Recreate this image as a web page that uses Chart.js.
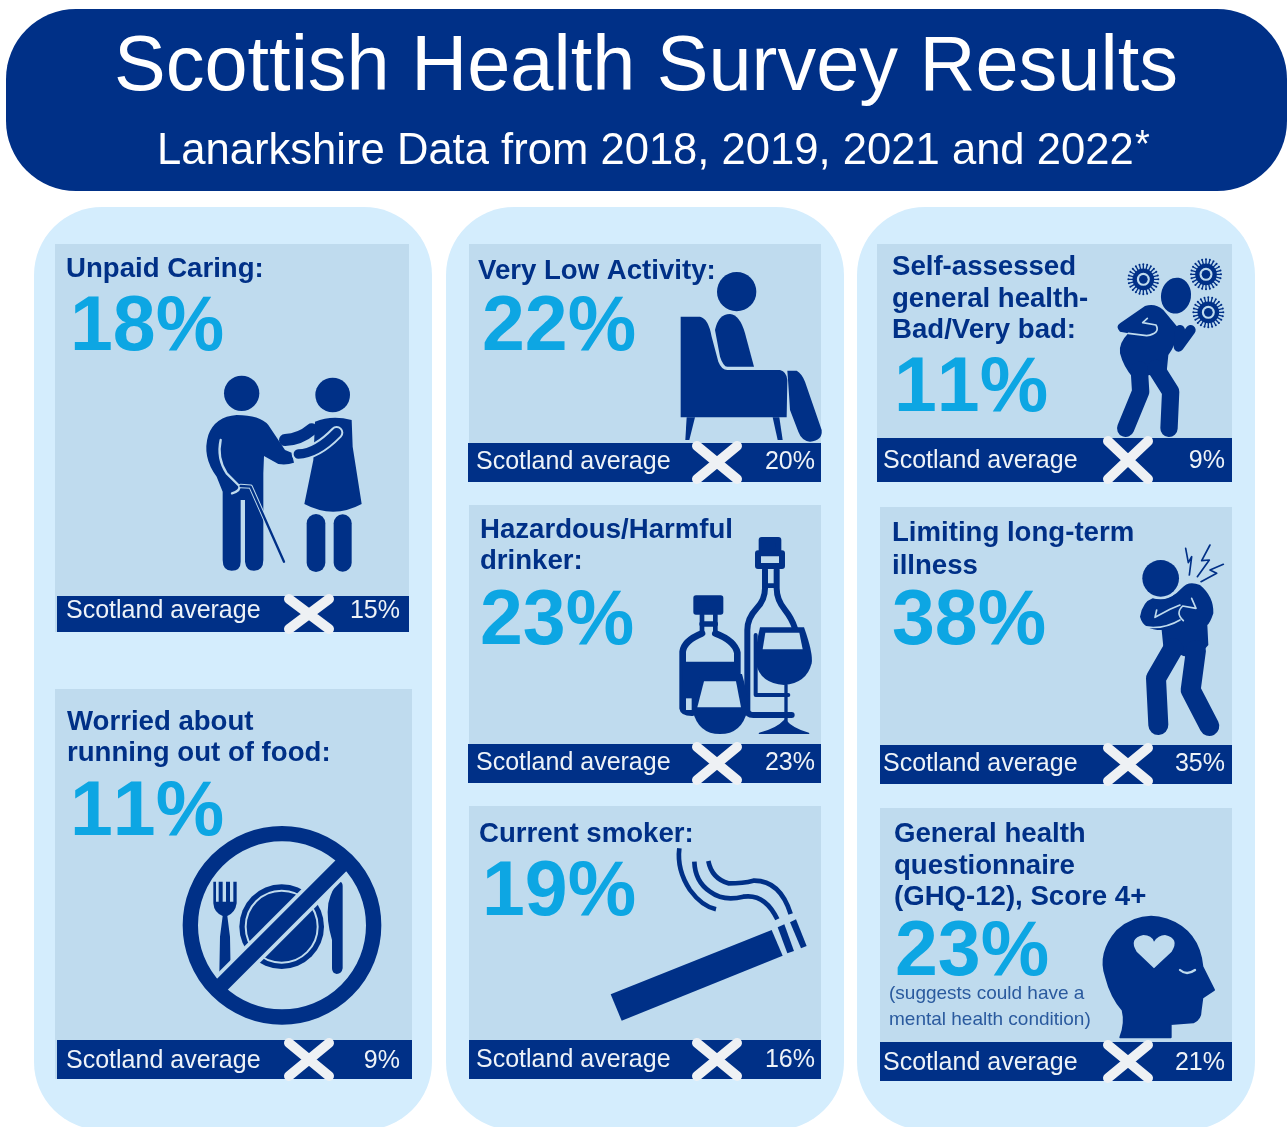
<!DOCTYPE html>
<html lang="en">
<head>
<meta charset="utf-8">
<title>Scottish Health Survey Results</title>
<script src="https://cdn.jsdelivr.net/npm/chart.js@4/dist/chart.umd.min.js"></script>
<style>
  html, body { margin: 0; padding: 0; background: #fff; }
  canvas { display: block; }
</style>
</head>
<body>
<canvas id="survey" width="1287" height="1127"></canvas>
<script>
const categories = [
  ['Unpaid Caring:'],
  ['Worried about', 'running out of food:'],
  ['Very Low Activity:'],
  ['Hazardous/Harmful', 'drinker:'],
  ['Current smoker:'],
  ['Self-assessed', 'general health-', 'Bad/Very bad:'],
  ['Limiting long-term', 'illness'],
  ['General health', 'questionnaire', '(GHQ-12), Score 4+']
];
const lanarkshire = [18, 11, 22, 23, 19, 11, 38, 23];
const scotlandAverage = [15, 9, 20, 23, 16, 9, 35, 21];
const bandLabel = 'Scotland average';
const title = 'Scottish Health Survey Results';
const subtitle = 'Lanarkshire Data from 2018, 2019, 2021 and 2022';
const footnote = ['(suggests could have a', 'mental health condition)'];

const NAVY = '#003087';
const SKY = '#0da6e3';
const PANEL = '#bfdbee';
const COLUMN = '#d4edfd';
const FONT = '"Liberation Sans", Arial, sans-serif';

// box: panel rectangle, band: Scotland strip, lines: heading baselines, big: big figure anchor
const layout = [
  { box: [55, 244, 409, 632], band: [57, 596, 632], bandX: 66, text: 618, flag: 284, right: 400, headX: 66, lines: [277], big: [70, 350], icon: carer },
  { box: [55, 689, 412, 1079], band: [57, 1040, 1079], bandX: 66, text: 1068, flag: 284, right: 400, headX: 67, lines: [730, 761], big: [70, 835], icon: noFood },
  { box: [469, 244, 821, 482], band: [468, 443, 482], bandX: 476, text: 469, flag: 692, right: 815, headX: 478, lines: [279], big: [482, 350], icon: armchair },
  { box: [469, 505, 821, 783], band: [468, 744, 783], bandX: 476, text: 770, flag: 692, right: 815, headX: 480, lines: [538, 569], big: [480, 644], icon: bottles },
  { box: [469, 806, 821, 1079], band: [469, 1040, 1079], bandX: 476, text: 1067, flag: 692, right: 815, headX: 479, lines: [842], big: [482, 915], icon: cigarette },
  { box: [877, 244, 1232, 482], band: [877, 438, 482], bandX: 883, text: 468, flag: 1103, right: 1225, headX: 892, lines: [275, 307, 338], big: [894, 411], icon: coughing },
  { box: [880, 507, 1232, 784], band: [880, 745, 784], bandX: 883, text: 771, flag: 1103, right: 1225, headX: 892, lines: [541, 574], big: [892, 644], icon: chestPain },
  { box: [880, 808, 1232, 1081], band: [880, 1042, 1081], bandX: 883, text: 1070, flag: 1103, right: 1225, headX: 894, lines: [842, 874, 905], big: [895, 975], icon: headHeart }
];
const columns = [[34, 432], [446, 844], [857, 1255]];

function path(ctx, d, fill, stroke, width) {
  const p = new Path2D(d);
  if (fill) { ctx.fillStyle = fill; ctx.fill(p); }
  if (stroke) {
    ctx.strokeStyle = stroke;
    ctx.lineWidth = width;
    ctx.stroke(p);
  }
}

// icons are drawn on a 3x grid around an origin, so they stay easy to tweak
function grid(ctx, x, y, draw) {
  ctx.save();
  ctx.translate(x, y);
  ctx.scale(1 / 3, 1 / 3);
  ctx.lineCap = 'round';
  ctx.lineJoin = 'round';
  draw();
  ctx.restore();
}

function disc(ctx, x, y, r, color) {
  ctx.fillStyle = color;
  ctx.beginPath();
  ctx.arc(x, y, r, 0, Math.PI * 2);
  ctx.fill();
}

function carer(ctx) {
  grid(ctx, 30, 360, () => {
    disc(ctx, 635, 100, 53, NAVY);
    disc(ctx, 908, 105, 52, NAVY);
    // man
    path(ctx, 'M620 165 Q555 170 535 225 Q515 290 560 350 L578 395 L578 600 Q578 632 605 632 Q632 632 632 605 L632 420 L645 420 L645 605 Q648 632 672 632 Q700 632 700 600 L700 340 L702 288 L745 312 Q770 316 792 308 L785 278 L765 270 L715 195 Q690 165 620 165 Z', NAVY);
    path(ctx, 'M572 240 Q560 295 590 340 L628 378 Q632 392 606 400', null, PANEL, 7);
    path(ctx, 'M632 378 L662 380 L762 605', null, PANEL, 13);
    path(ctx, 'M632 378 L662 380 L762 605', null, NAVY, 7);
    // woman
    path(ctx, 'M765 240 Q810 238 845 208', null, NAVY, 36);
    path(ctx, 'M855 185 Q905 165 965 180 L968 260 L995 432 Q910 478 823 432 L850 300 Z', NAVY);
    path(ctx, 'M858 490 L858 608', null, NAVY, 56);
    path(ctx, 'M938 490 L938 608', null, NAVY, 54);
    path(ctx, 'M805 282 Q860 280 920 218', null, PANEL, 40);
    path(ctx, 'M805 282 Q860 280 920 218', null, NAVY, 28);
  });
}

function noFood(ctx) {
  grid(ctx, 30, 780, () => {
    disc(ctx, 755, 440, 127, NAVY);
    ctx.strokeStyle = PANEL;
    ctx.lineWidth = 6;
    ctx.beginPath();
    ctx.arc(755, 440, 108, 0, Math.PI * 2);
    ctx.stroke();
    // fork
    path(ctx, 'M550 305 L558 305 L558 365 L566 365 L566 305 L578 305 L578 365 L588 365 L588 305 L600 305 L600 365 L610 365 L610 305 L620 305 L620 370 Q616 398 592 408 L600 470 L602 580 L568 580 L570 470 L578 408 Q552 398 550 370 Z', NAVY);
    // knife
    path(ctx, 'M928 305 Q938 305 938 318 L938 565 Q935 582 920 582 Q906 580 906 565 L906 480 Q888 420 895 370 Q905 325 928 305 Z', NAVY);
    ctx.lineCap = 'butt';
    path(ctx, 'M555 635 L955 235', null, PANEL, 68);
    path(ctx, 'M555 635 L955 235', null, NAVY, 46);
    ctx.strokeStyle = NAVY;
    ctx.lineWidth = 46;
    ctx.beginPath();
    ctx.arc(756, 436, 275, 0, Math.PI * 2);
    ctx.stroke();
  });
}

function armchair(ctx) {
  grid(ctx, 640, 250, () => {
    disc(ctx, 290, 125, 59, NAVY);
    path(ctx, 'M225 240 Q235 192 270 192 Q300 195 315 250 L342 350 L262 350 Q250 350 240 320 Z', NAVY);
    path(ctx, 'M122 200 L180 200 Q205 205 215 260 L235 335 Q245 360 262 360 L420 360 Q440 365 442 390 L440 502 L122 502 Z', NAVY);
    path(ctx, 'M140 502 L165 502 L148 570 L136 570 Z', NAVY);
    path(ctx, 'M398 502 L418 502 L428 570 L413 570 Z', NAVY);
    path(ctx, 'M442 362 L470 362 Q485 370 495 395 L545 540 Q548 572 510 575 Q485 572 475 545 L450 480 Q445 400 442 362 Z', NAVY);
  });
}

function bottles(ctx) {
  grid(ctx, 660, 520, () => {
    // wine bottle
    path(ctx, 'M305 60 L355 60 L355 90 L305 90 Z', NAVY, NAVY, 18);
    path(ctx, 'M294 100 L366 100 L366 138 L294 138 Z', null, NAVY, 18);
    path(ctx, 'M315 150 L315 205 Q315 240 290 265 Q262 295 262 330 L262 570 Q262 585 280 585 L395 585', null, NAVY, 18);
    path(ctx, 'M350 150 L350 205 Q350 240 375 270 Q395 295 405 325', null, NAVY, 18);
    path(ctx, 'M315 197 L350 197', null, NAVY, 14);
    path(ctx, 'M287 345 L287 525 L385 525', null, NAVY, 12);
    // wine glass
    path(ctx, 'M300 322 L432 322 Q460 400 455 430 Q440 490 372 495 Q300 490 288 430 Q285 380 300 322 Z', NAVY);
    path(ctx, 'M316 338 L418 338 L428 388 L308 388 Z', PANEL);
    path(ctx, 'M378 495 L378 615', null, NAVY, 10);
    path(ctx, 'M298 640 Q350 628 375 600 Q398 628 446 640 Z', NAVY, NAVY, 4);
    // whisky bottle
    path(ctx, 'M108 234 L182 234 L182 276 L108 276 Z', NAVY, NAVY, 16);
    path(ctx, 'M126 284 L126 335 M166 284 L166 335', null, NAVY, 14);
    path(ctx, 'M126 312 L166 312', null, NAVY, 16);
    path(ctx, 'M126 340 Q72 362 68 395 L68 565 Q70 578 95 578', null, NAVY, 20);
    path(ctx, 'M166 340 Q224 362 232 398 L232 480', null, NAVY, 20);
    path(ctx, 'M68 425 L232 425 L232 500 L120 580 L68 580 Z', NAVY);
    path(ctx, 'M78 535 L95 535 L95 570 L78 570 Z', PANEL);
    // tumbler
    path(ctx, 'M122 462 L246 462 Q268 540 262 572 Q245 642 180 642 Q115 642 98 572 Q95 530 122 462 Z', NAVY);
    path(ctx, 'M132 484 L228 484 L243 562 L112 562 Z', PANEL);
  });
}

function cigarette(ctx) {
  grid(ctx, 600, 840, () => {
    path(ctx, 'M32 463 L515 270 L548 347 L65 542 Z', NAVY);
    path(ctx, 'M533 262 L553 253 L582 333 L562 340 Z', NAVY);
    path(ctx, 'M570 247 L588 238 L620 318 L603 325 Z', NAVY);
    ctx.lineCap = 'butt';
    path(ctx, 'M238 25 Q230 90 270 150 Q305 198 348 208', null, NAVY, 14);
    path(ctx, 'M283 65 Q285 125 330 155 Q370 185 430 170 Q495 160 532 238', null, NAVY, 14);
    path(ctx, 'M325 63 Q335 115 385 130 Q430 130 460 122 Q540 120 572 222', null, NAVY, 14);
  });
}

function virus(ctx, x, y) {
  ctx.strokeStyle = NAVY;
  for (let a = 0; a < 24; a++) {
    const t = a * Math.PI / 12;
    ctx.lineWidth = 4;
    ctx.beginPath();
    ctx.moveTo(x + Math.cos(t) * 26, y + Math.sin(t) * 26);
    ctx.lineTo(x + Math.cos(t) * 44, y + Math.sin(t) * 44);
    ctx.stroke();
    disc(ctx, x + Math.cos(t) * 45, y + Math.sin(t) * 45, 3, NAVY);
  }
  ctx.lineWidth = 13;
  ctx.beginPath();
  ctx.arc(x, y, 26, 0, Math.PI * 2);
  ctx.stroke();
  disc(ctx, x, y, 13, NAVY);
}

function coughing(ctx) {
  grid(ctx, 1100, 250, () => {
    virus(ctx, 130, 88);
    virus(ctx, 318, 73);
    virus(ctx, 325, 187);
    ctx.fillStyle = NAVY;
    ctx.beginPath();
    ctx.ellipse(228, 137, 45, 54, 0.15, 0, Math.PI * 2);
    ctx.fill();
    path(ctx, 'M60 310 Q55 280 85 250 L60 245 Q45 230 60 220 L135 168 Q165 158 190 180 L238 238 Q225 290 205 315 L200 365 L100 385 Q70 350 60 310 Z', NAVY);
    path(ctx, 'M240 240 L236 290 L272 240', null, NAVY, 30);
    path(ctx, 'M168 355 L212 425 L207 535', null, NAVY, 52);
    path(ctx, 'M118 360 L122 425 L77 535', null, NAVY, 52);
    path(ctx, 'M142 205 L128 218 L168 225 Q182 250 140 257 L85 250', null, PANEL, 5);
  });
}

function chestPain(ctx) {
  grid(ctx, 1120, 530, () => {
    path(ctx, 'M60 260 Q68 215 98 205 Q150 215 185 175 Q205 150 240 165 Q282 200 280 250 Q270 280 262 285 L265 345 L230 385 L190 378 L130 350 L125 300 Q70 300 60 260 Z', NAVY);
    path(ctx, 'M160 355 L108 445 L115 585', null, NAVY, 60);
    path(ctx, 'M228 360 L212 480 L268 588', null, NAVY, 60);
    disc(ctx, 122, 145, 63, PANEL);
    disc(ctx, 122, 145, 55, NAVY);
    path(ctx, 'M215 205 L228 235 L188 228 Q165 250 190 272', null, PANEL, 5);
    path(ctx, 'M110 240 L105 262 L150 238 L180 225', null, PANEL, 5);
    path(ctx, 'M70 290 Q130 300 180 270', null, PANEL, 5);
    path(ctx, 'M197 55 L205 98 L215 80 L208 135', null, NAVY, 5);
    path(ctx, 'M270 45 L245 92 L268 90 L232 140', null, NAVY, 5);
    path(ctx, 'M310 103 L270 120 L290 130 L243 155', null, NAVY, 5);
  });
}

function headHeart(ctx) {
  grid(ctx, 880, 900, () => {
    path(ctx, 'M721 412 L872 412 L872 372 L940 367 Q962 358 962 330 L967 293 L1002 270 L967 200 Q957 92 860 58 Q780 33 712 92 Q653 160 678 230 Q693 290 728 330 Q738 370 721 412 Z', NAVY, NAVY, 6);
    path(ctx, 'M822 205 L770 155 Q745 115 790 105 Q815 105 822 125 Q835 105 855 105 Q900 115 875 155 Z', PANEL);
    path(ctx, 'M900 210 Q920 228 945 210', null, PANEL, 7);
  });
}

function roundBox(ctx, x1, y1, x2, y2, r, color) {
  ctx.fillStyle = color;
  ctx.beginPath();
  ctx.roundRect(x1, y1, x2 - x1, y2 - y1, r);
  ctx.fill();
}

function saltire(ctx, x, y1, y2) {
  ctx.strokeStyle = '#eef1f4';
  ctx.lineWidth = 10;
  ctx.lineCap = 'round';
  ctx.beginPath();
  ctx.moveTo(x + 5, y1 + 3);
  ctx.lineTo(x + 45, y2 - 3);
  ctx.moveTo(x + 45, y1 + 3);
  ctx.lineTo(x + 5, y2 - 3);
  ctx.stroke();
  ctx.lineCap = 'butt';
}

function text(ctx, str, x, y, font, color, align) {
  ctx.font = font;
  ctx.fillStyle = color;
  ctx.textAlign = align || 'left';
  ctx.textBaseline = 'alphabetic';
  ctx.fillText(str, x, y);
}

const infographic = {
  id: 'infographic',
  beforeDatasetsDraw(chart) {
    const ctx = chart.ctx;
    ctx.save();
    // header
    ctx.fillStyle = NAVY;
    ctx.beginPath();
    ctx.roundRect(6, 9, 1281, 182, 70);
    ctx.fill();
    text(ctx, title, 646, 90, '77.5px ' + FONT, '#ffffff', 'center');
    text(ctx, subtitle, 157, 164, '43.6px ' + FONT, '#ffffff');
    text(ctx, '*', 1135, 157, '38px ' + FONT, '#ffffff');

    columns.forEach(c => roundBox(ctx, c[0], 207, c[1], 1130, 68, COLUMN));

    layout.forEach((p, i) => {
      roundBox(ctx, p.box[0], p.box[1], p.box[2], p.box[3], 0, PANEL);
      p.icon(ctx);
      ctx.fillStyle = NAVY;
      ctx.fillRect(p.band[0], p.band[1], p.box[2] - p.band[0], p.band[2] - p.band[1]);
      saltire(ctx, p.flag, p.band[1], p.band[2]);
      text(ctx, bandLabel, p.bandX, p.text, '25px ' + FONT, '#eef3f8');
      categories[i].forEach((line, k) => {
        text(ctx, line, p.headX, p.lines[k], 'bold 27.6px ' + FONT, NAVY);
      });
    });
    footnote.forEach((line, k) => {
      text(ctx, line, 889, 999 + k * 26, '19px ' + FONT, '#2a5a9e');
    });
    ctx.restore();
  },
  afterDatasetsDraw(chart) {
    const ctx = chart.ctx;
    ctx.save();
    // figures sit on the points placed through the scales
    ctx.fontKerning = 'none';
    chart.getDatasetMeta(0).data.forEach((pt, i) => {
      text(ctx, lanarkshire[i] + '%', pt.x, pt.y, 'bold 77px ' + FONT, SKY);
    });
    ctx.fontKerning = 'auto';
    chart.getDatasetMeta(1).data.forEach((pt, i) => {
      text(ctx, scotlandAverage[i] + '%', pt.x, pt.y, '25px ' + FONT, '#eef3f8', 'right');
    });
    ctx.restore();
  }
};

new Chart(document.getElementById('survey'), {
  type: 'scatter',
  data: {
    datasets: [
      {
        label: 'Lanarkshire',
        data: lanarkshire.map((v, i) => ({ x: layout[i].big[0], y: layout[i].big[1], v })),
        pointRadius: 0
      },
      {
        label: 'Scotland average',
        data: scotlandAverage.map((v, i) => ({ x: layout[i].right, y: layout[i].text, v })),
        pointRadius: 0
      }
    ]
  },
  options: {
    responsive: false,
    animation: false,
    layout: { padding: 0 },
    scales: {
      x: { type: 'linear', min: 0, max: 1287, display: false },
      y: { type: 'linear', min: 0, max: 1127, reverse: true, display: false }
    },
    plugins: { legend: { display: false }, tooltip: { enabled: false } }
  },
  plugins: [infographic]
});
</script>
</body>
</html>
